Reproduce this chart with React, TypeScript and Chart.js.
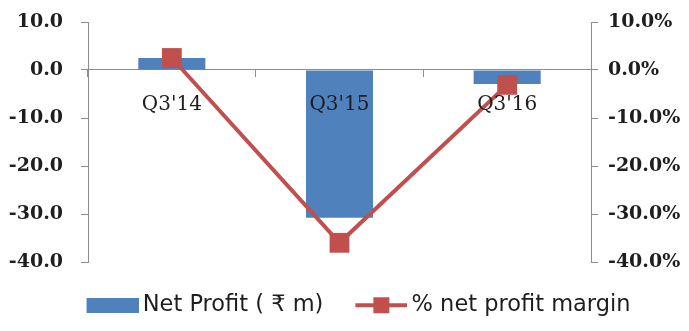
import React, { useEffect, useRef } from 'react';
import { Chart, registerables } from 'chart.js';

Chart.register(...registerables);

const categories = ["Q3'14", "Q3'15", "Q3'16"];
const netProfit = [2.5, -30.8, -2.9];
const profitMargin = [2.5, -36.0, -3.1];
const seriesNames = ['Net Profit ( ₹ m)', '% net profit margin'];
const axisMin = -40;
const axisMax = 10;
const axisStep = 10;

const BLUE = '#4F81BD';
const RED = '#C0504D';
const GREY = '#8c8c8c';
const TEXT = '#1e1e1e';

function makeIcon(w: number, h: number, draw: (ctx: CanvasRenderingContext2D) => void) {
  const c = document.createElement('canvas');
  c.width = w;
  c.height = h;
  const ctx = c.getContext('2d');
  if (ctx) draw(ctx);
  return c;
}

export default function App() {
  const ref = useRef<HTMLCanvasElement>(null);

  useEffect(() => {
    document.body.style.margin = '0';
    if (!ref.current) return;

    const barIcon = makeIcon(59, 15, (ctx) => {
      ctx.fillStyle = BLUE;
      ctx.fillRect(7, 0, 52, 15);
    });
    const lineIcon = makeIcon(59, 18, (ctx) => {
      ctx.strokeStyle = RED;
      ctx.lineWidth = 4;
      ctx.beginPath();
      ctx.moveTo(7, 9);
      ctx.lineTo(59, 9);
      ctx.stroke();
      ctx.fillStyle = RED;
      ctx.fillRect(33 - 8, 1, 16, 16);
    });

    const axisFont = { family: "'DejaVu Serif', serif", size: 19, weight: 'bold' as const };
    const catFont = { family: "'DejaVu Serif', serif", size: 20 };

    const fixY = (width: number) => (s: any) => {
      s.width = width;
      s.paddingTop = 12;
      s.paddingBottom = 12;
    };

    const chart = new Chart(ref.current, {
      type: 'bar',
      data: {
        labels: categories,
        datasets: [
          {
            type: 'bar',
            label: seriesNames[0],
            data: netProfit,
            backgroundColor: BLUE,
            borderWidth: 0,
            yAxisID: 'y',
            categoryPercentage: 1,
            barPercentage: 0.4,
            order: 2,
          } as any,
          {
            type: 'line',
            label: seriesNames[1],
            data: profitMargin,
            borderColor: RED,
            backgroundColor: RED,
            borderWidth: 4,
            tension: 0,
            pointStyle: 'rect',
            pointRadius: 14,
            pointHoverRadius: 14,
            pointBorderWidth: 0,
            pointBackgroundColor: RED,
            yAxisID: 'y1',
            order: 1,
          } as any,
        ],
      },
      options: {
        responsive: false,
        animation: false,
        events: [],
        layout: { padding: { top: 22, bottom: 4.5, left: 0, right: -28 } },
        plugins: {
          tooltip: { enabled: false },
          legend: {
            position: 'bottom',
            labels: {
              usePointStyle: true,
              pointStyleWidth: 45,
              padding: 32,
              color: TEXT,
              font: { family: "'DejaVu Sans', sans-serif", size: 22.5 },
              generateLabels: () => [
                {
                  text: seriesNames[0],
                  pointStyle: barIcon as any,
                  fillStyle: BLUE,
                  strokeStyle: BLUE,
                  lineWidth: 0,
                  hidden: false,
                  datasetIndex: 0,
                  fontColor: TEXT,
                },
                {
                  text: seriesNames[1],
                  pointStyle: lineIcon as any,
                  fillStyle: RED,
                  strokeStyle: RED,
                  lineWidth: 0,
                  hidden: false,
                  datasetIndex: 1,
                  fontColor: TEXT,
                },
              ],
            },
          },
        },
        scales: {
          x: {
            position: { y: 0 } as any,
            offset: true,
            grid: {
              drawOnChartArea: false,
              drawTicks: true,
              tickLength: 7,
              color: GREY,
              offset: true,
            },
            border: { display: true, color: GREY, width: 1 },
            ticks: { font: catFont, color: TEXT, padding: 16, z: 1 } as any,
          },
          y: {
            position: 'left',
            min: axisMin,
            max: axisMax,
            ticks: {
              stepSize: axisStep,
              callback: (v: any) => Number(v).toFixed(1),
              font: axisFont,
              color: TEXT,
              padding: 18,
            },
            grid: { drawOnChartArea: false, tickLength: 7, color: GREY },
            border: { display: true, color: GREY },
            afterFit: fixY(88),
          },
          y1: {
            position: 'right',
            min: axisMin,
            max: axisMax,
            ticks: {
              stepSize: axisStep,
              callback: (v: any) => Number(v).toFixed(1) + '%',
              font: axisFont,
              color: TEXT,
              padding: 10,
            },
            grid: { drawOnChartArea: false, tickLength: 7, color: GREY },
            border: { display: true, color: GREY },
            afterFit: fixY(126),
          },
        },
      },
    });

    return () => {
      chart.destroy();
    };
  }, []);

  return <canvas ref={ref} width={689} height={331} style={{ display: 'block' }} />;
}
